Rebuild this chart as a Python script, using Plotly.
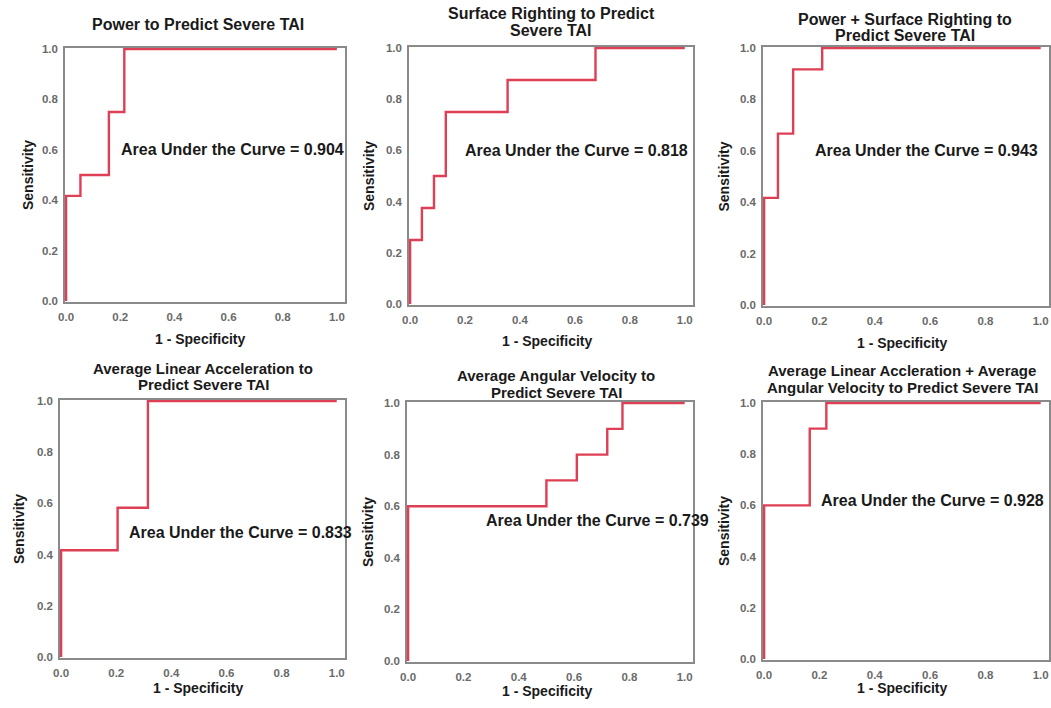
import plotly.graph_objects as go

# ---- data ----
titles = [
    ["Power to Predict Severe TAI"],
    ["Surface Righting to Predict", "Severe TAI"],
    ["Power + Surface Righting to", "Predict Severe TAI"],
    ["Average Linear Acceleration to", "Predict Severe TAI"],
    ["Average Angular Velocity to", "Predict Severe TAI"],
    ["Average Linear Accleration + Average", "Angular Velocity to Predict Severe TAI"],
]
auc_values = ["0.904", "0.818", "0.943", "0.833", "0.739", "0.928"]

fpr_power = [0, 0, 0.053, 0.053, 0.158, 0.158, 0.215, 0.215, 1.0]
tpr_power = [0, 0.417, 0.417, 0.5, 0.5, 0.75, 0.75, 1.0, 1.0]

fpr_surface = [0, 0, 0.043, 0.043, 0.087, 0.087, 0.13, 0.13, 0.355, 0.355, 0.675, 0.675, 1.0]
tpr_surface = [0, 0.25, 0.25, 0.375, 0.375, 0.5, 0.5, 0.75, 0.75, 0.875, 0.875, 1.0, 1.0]

fpr_power_surface = [0, 0, 0.05, 0.05, 0.105, 0.105, 0.21, 0.21, 1.0]
tpr_power_surface = [0, 0.417, 0.417, 0.667, 0.667, 0.917, 0.917, 1.0, 1.0]

fpr_linacc = [0, 0, 0.205, 0.205, 0.315, 0.315, 1.0]
tpr_linacc = [0, 0.417, 0.417, 0.583, 0.583, 1.0, 1.0]

fpr_angvel = [0, 0, 0.5, 0.5, 0.61, 0.61, 0.72, 0.72, 0.775, 0.775, 1.0]
tpr_angvel = [0, 0.6, 0.6, 0.7, 0.7, 0.8, 0.8, 0.9, 0.9, 1.0, 1.0]

fpr_lin_ang = [0, 0, 0.165, 0.165, 0.225, 0.225, 1.0]
tpr_lin_ang = [0, 0.6, 0.6, 0.9, 0.9, 1.0, 1.0]

curves = [
    (fpr_power, tpr_power),
    (fpr_surface, tpr_surface),
    (fpr_power_surface, tpr_power_surface),
    (fpr_linacc, tpr_linacc),
    (fpr_angvel, tpr_angvel),
    (fpr_lin_ang, tpr_lin_ang),
]
tick_vals = [0, 0.2, 0.4, 0.6, 0.8, 1.0]
tick_text = ["0.0", "0.2", "0.4", "0.6", "0.8", "1.0"]
x_title = "1 - Specificity"
y_title = "Sensitivity"

# ---- layout: page pixel geometry (page body margin removed below) ----
W, H = 1051, 708


def px(x):
    return x / W


def py(y):
    return 1 - y / H


frames = [  # left, right, top, bottom (page pixels)
    (65, 345, 48, 302),
    (409, 693, 47, 305),
    (763, 1049, 47, 306),
    (60, 345, 400, 658),
    (407, 693, 402, 662),
    (763, 1049, 402, 660),
]
auc_pos = [(0.195, 0.60), (0.194, 0.60), (0.175, 0.60), (0.24, 0.485), (0.273, 0.546), (0.20, 0.62)]
title_lines_y = [[25], [14, 31], [19, 36], [368, 385], [375, 392], [370, 388]]
title_x = [198, 551, 905, 203, 556, 902]
title_size = [16, 16, 16, 15, 15, 15]
xtitle_x = [200, 547, 902, 198, 547, 902]
xtitle_y = [339, 341, 343, 688, 691, 688]
ytitle_x = [28, 369, 724, 19, 368, 724]

FONT = "Liberation Sans, Arial, Helvetica, sans-serif"
LINE_COLOR = "#de3f55"
FRAME_COLOR = "#8a8a8a"

fig = go.Figure()
annotations = []
XMAX = 1.03

for i, ((fx, fy), fr) in enumerate(zip(curves, frames)):
    L, R, T, B = fr
    n = "" if i == 0 else str(i + 1)
    xa, ya = "x" + n, "y" + n
    fig.add_trace(go.Scatter(
        x=fx, y=fy, mode="lines", xaxis=xa, yaxis=ya,
        line=dict(color=LINE_COLOR, width=2.4), showlegend=False, hoverinfo="skip",
    ))
    axis_common = dict(
        showgrid=False, zeroline=False, showline=True, mirror=True, automargin=False,
        linecolor=FRAME_COLOR, linewidth=1.6, layer="below traces",
        tickvals=tick_vals, ticktext=tick_text, ticks="outside",
        ticklen=3, tickcolor="rgba(0,0,0,0)",
        tickfont=dict(family=FONT, size=11.5, color="#6a6a6a", weight="bold"),
    )
    fig.update_layout(**{
        ("xaxis" + n): dict(axis_common, domain=[px(L), px(R)], range=[-0.004, XMAX],
                            anchor=ya),
        ("yaxis" + n): dict(axis_common, domain=[py(B), py(T)], range=[-0.004, 1.004],
                            anchor=xa),
    })
    # AUC annotation
    annotations.append(dict(
        x=auc_pos[i][0], y=auc_pos[i][1], xref=xa, yref=ya, xanchor="left", yanchor="middle",
        text="Area Under the Curve = " + auc_values[i], showarrow=False,
        font=dict(family=FONT, size=16, color="#1a1a1a", weight="bold"),
    ))
    # titles
    for line, ly in zip(titles[i], title_lines_y[i]):
        annotations.append(dict(
            x=px(title_x[i]), y=py(ly), xref="paper", yref="paper",
            xanchor="center", yanchor="middle", text=line, showarrow=False,
            font=dict(family=FONT, size=title_size[i], color="#1a1a1a", weight="bold"),
        ))
    # axis titles
    annotations.append(dict(
        x=px(xtitle_x[i]), y=py(xtitle_y[i]), xref="paper", yref="paper",
        xanchor="center", yanchor="middle", text=x_title, showarrow=False,
        font=dict(family=FONT, size=14, color="#1a1a1a", weight="bold"),
    ))
    annotations.append(dict(
        x=px(ytitle_x[i]), y=py((T + B) / 2), xref="paper", yref="paper",
        xanchor="center", yanchor="middle", text=y_title, showarrow=False, textangle=-90,
        font=dict(family=FONT, size=14, color="#1a1a1a", weight="bold"),
    ))

fig.update_layout(
    width=W, height=H, margin=dict(l=0, r=0, t=0, b=0, autoexpand=False),
    paper_bgcolor="white", plot_bgcolor="white",
    annotations=annotations, showlegend=False,
)

fig.write_html(
    "out.html",
    config={"displayModeBar": False},
    post_script="document.body.style.margin='0';document.body.style.overflow='hidden';",
)
